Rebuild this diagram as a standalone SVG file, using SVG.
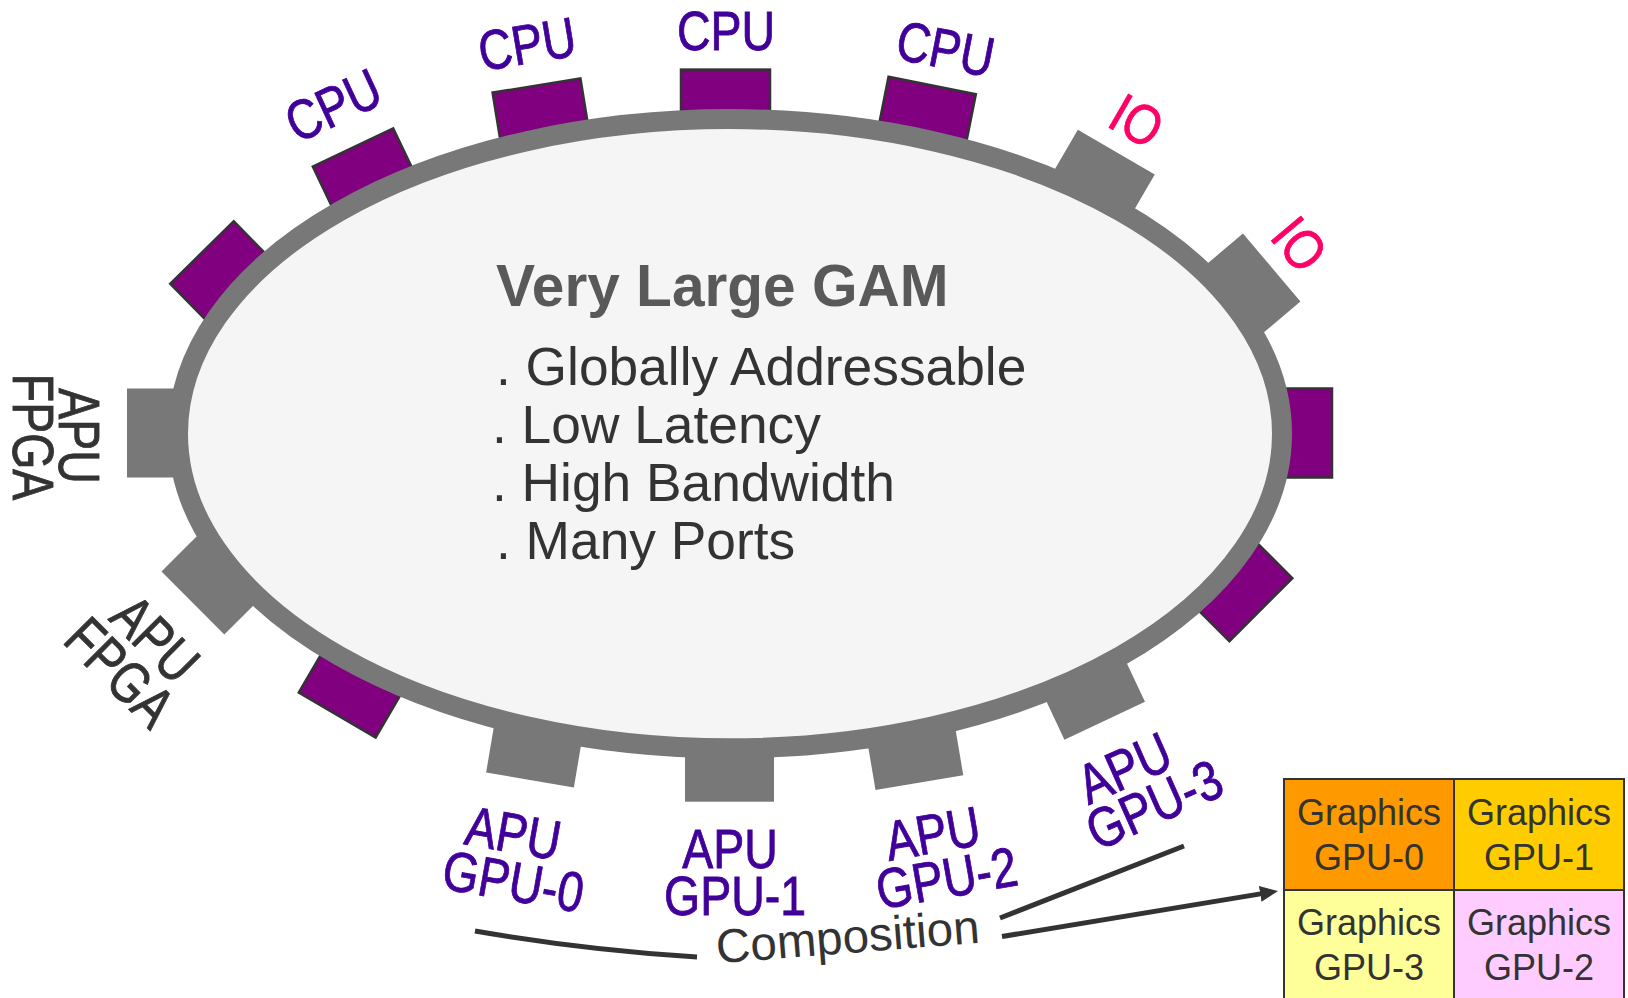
<svg xmlns="http://www.w3.org/2000/svg" width="1628" height="998" viewBox="0 0 1628 998">
  <style>
    .port-cpu { fill: #800080; stroke: #333333; stroke-width: 2.5; }
    .port-gray { fill: #787878; }
    .lbl { font-family: "Liberation Sans", Arial, sans-serif; font-size: 56px; text-anchor: middle; stroke-width: 0.9; }
    .cpu { fill: #400099; stroke: #400099; }
    .io { fill: #ff0066; stroke: #ff0066; }
    .fpga { fill: #333333; stroke: #333333; font-size: 58px; }
    .title { font-family: "Liberation Sans", Arial, sans-serif; font-size: 58.6px; font-weight: bold; fill: #595959; }
    .bullet { font-family: "Liberation Sans", Arial, sans-serif; font-size: 53.3px; fill: #333333; }
    .cell { stroke: #333333; stroke-width: 2; }
    .cell-text { font-family: "Liberation Sans", Arial, sans-serif; font-size: 36px; fill: #333333; text-anchor: middle; }
    .conn { fill: none; stroke: #333333; stroke-width: 5; }
  </style>
  <defs>
    <marker id="arrow" viewBox="0 0 18 16" refX="8" refY="8" markerWidth="18" markerHeight="16" markerUnits="userSpaceOnUse" orient="auto">
      <path d="M0,0 L18,8 L0,16 z" fill="#333333"/>
    </marker>
    <!-- one port: outer edge on y=0, body reaching inward under the ring -->
    <rect id="port" x="-44.5" y="0" width="89" height="70"/>
  </defs>

  <rect width="1628" height="998" fill="#ffffff"/>

  <!-- ports around the memory ring -->
  <g id="ports">
    <g id="port-cpu-top"><use href="#port" class="port-cpu" transform="translate(725.5,69.6) rotate(0)"/></g>
    <g id="port-cpu-r1"><use href="#port" class="port-cpu" transform="translate(932.2,85.5) rotate(11.3)"/></g>
    <g id="port-io-1"><use href="#port" class="port-gray" transform="translate(1116.3,152.2) rotate(30.2)"/></g>
    <g id="port-io-2"><use href="#port" class="port-gray" transform="translate(1271.7,267.5) rotate(49.8)"/></g>
    <g id="port-right"><use href="#port" class="port-cpu" transform="translate(1332,433) rotate(90)"/></g>
    <g id="port-lower-right"><use href="#port" class="port-cpu" transform="translate(1260.9,609.7) rotate(135)"/></g>
    <g id="port-gpu-3"><use href="#port" class="port-gray" transform="translate(1104.7,720.7) rotate(154.8)"/></g>
    <g id="port-gpu-2"><use href="#port" class="port-gray" transform="translate(919.4,782.7) rotate(170.4)"/></g>
    <g id="port-gpu-1"><use href="#port" class="port-gray" transform="translate(729.5,801.7) rotate(180)"/></g>
    <g id="port-gpu-0"><use href="#port" class="port-gray" transform="translate(530,780) rotate(189.6)"/></g>
    <g id="port-lower-left"><use href="#port" class="port-cpu" transform="translate(337.2,715) rotate(210.3)"/></g>
    <g id="port-fpga-2"><use href="#port" class="port-gray" transform="translate(192.9,603) rotate(225.1)"/></g>
    <g id="port-fpga-1"><use href="#port" class="port-gray" transform="translate(127,433) rotate(270)"/></g>
    <g id="port-upper-left"><use href="#port" class="port-cpu" transform="translate(202,252.5) rotate(315.5)"/></g>
    <g id="port-cpu-l2"><use href="#port" class="port-cpu" transform="translate(353,147.5) rotate(334.5)"/></g>
    <g id="port-cpu-l1"><use href="#port" class="port-cpu" transform="translate(536.5,85.5) rotate(350.75)"/></g>
  </g>

  <!-- the shared memory ring -->
  <g id="gam">
    <ellipse cx="730" cy="433.7" rx="552" ry="314.6" fill="#f5f5f5" stroke="#787878" stroke-width="20"/>
    <text class="title" x="496" y="306">Very Large GAM</text>
    <text class="bullet" x="496" y="385">. Globally Addressable</text>
    <text class="bullet" x="492" y="443">. Low Latency</text>
    <text class="bullet" x="492" y="501">. High Bandwidth</text>
    <text class="bullet" x="496" y="559">. Many Ports</text>
  </g>

  <!-- port labels -->
  <g id="labels">
    <g id="label-cpu-top"><text class="lbl cpu" y="20" transform="translate(726,30) rotate(0) scale(0.83,1)">CPU</text></g>
    <g id="label-cpu-l1"><text class="lbl cpu" y="20" transform="translate(527,43.5) rotate(-9.5) scale(0.83,1)">CPU</text></g>
    <g id="label-cpu-l2"><text class="lbl cpu" y="20" transform="translate(333,105) rotate(-25) scale(0.83,1)">CPU</text></g>
    <g id="label-cpu-r1"><text class="lbl cpu" y="20" transform="translate(945.6,48.3) rotate(11) scale(0.83,1)">CPU</text></g>
    <g id="label-io-1"><text class="lbl io" y="20" transform="translate(1137,120.5) rotate(30) scale(0.85,1)">IO</text></g>
    <g id="label-io-2"><text class="lbl io" y="20" transform="translate(1300,244) rotate(50) scale(0.85,1)">IO</text></g>

    <g id="label-gpu-0">
      <text class="lbl cpu" y="20" transform="translate(513.5,832.5) rotate(10) scale(0.83,1)">APU</text>
      <text class="lbl cpu" y="20" transform="translate(513.5,880.8) rotate(10) scale(0.83,1)">GPU-0</text>
    </g>
    <g id="label-gpu-1">
      <text class="lbl cpu" y="20" transform="translate(730,848) scale(0.83,1)">APU</text>
      <text class="lbl cpu" y="20" transform="translate(735,895) scale(0.83,1)">GPU-1</text>
    </g>
    <g id="label-gpu-2">
      <text class="lbl cpu" y="20" transform="translate(932.5,833) rotate(-10) scale(0.83,1)">APU</text>
      <text class="lbl cpu" y="20" transform="translate(946.5,877.5) rotate(-10) scale(0.83,1)">GPU-2</text>
    </g>
    <g id="label-gpu-3">
      <text class="lbl cpu" y="20" transform="translate(1124,767.5) rotate(-24) scale(0.83,1)">APU</text>
      <text class="lbl cpu" y="20" transform="translate(1154,804) rotate(-24) scale(0.83,1)">GPU-3</text>
    </g>

    <g id="label-fpga-1">
      <text class="lbl fpga" y="21" transform="translate(80.5,436) rotate(90) scale(0.8,1)">APU</text>
      <text class="lbl fpga" y="21" transform="translate(34,437) rotate(90) scale(0.8,1)">FPGA</text>
    </g>
    <g id="label-fpga-2">
      <text class="lbl fpga" y="21" transform="translate(156,638) rotate(45) scale(0.8,1)">APU</text>
      <text class="lbl fpga" y="21" transform="translate(120.7,671.5) rotate(45) scale(0.8,1)">FPGA</text>
    </g>
  </g>

  <!-- composition of the GPU ports into one display -->
  <g id="composition">
    <text font-family="'Liberation Sans', Arial, sans-serif" font-size="47.5" fill="#333333" text-anchor="middle" y="12" transform="translate(848,941) rotate(-4.5)">Composition</text>
  </g>

  <g id="connectors">
    <path class="conn" d="M475,931 Q585,950 697,957"/>
    <path class="conn" d="M1000,918 L1184,846"/>
    <path class="conn" d="M1002,936.5 L1268.1,892.6" marker-end="url(#arrow)"/>
  </g>

  <!-- composed display tiles -->
  <g id="display">
    <g id="tile-gpu-0">
      <rect class="cell" x="1284" y="779" width="170" height="111" fill="#ff9900"/>
      <text class="cell-text" x="1369" y="825">Graphics</text>
      <text class="cell-text" x="1369" y="870">GPU-0</text>
    </g>
    <g id="tile-gpu-1">
      <rect class="cell" x="1454" y="779" width="170" height="111" fill="#ffcc00"/>
      <text class="cell-text" x="1539" y="825">Graphics</text>
      <text class="cell-text" x="1539" y="870">GPU-1</text>
    </g>
    <g id="tile-gpu-3">
      <rect class="cell" x="1284" y="890" width="170" height="111" fill="#ffff99"/>
      <text class="cell-text" x="1369" y="935">Graphics</text>
      <text class="cell-text" x="1369" y="980">GPU-3</text>
    </g>
    <g id="tile-gpu-2">
      <rect class="cell" x="1454" y="890" width="170" height="111" fill="#ffccff"/>
      <text class="cell-text" x="1539" y="935">Graphics</text>
      <text class="cell-text" x="1539" y="980">GPU-2</text>
    </g>
  </g>
</svg>
